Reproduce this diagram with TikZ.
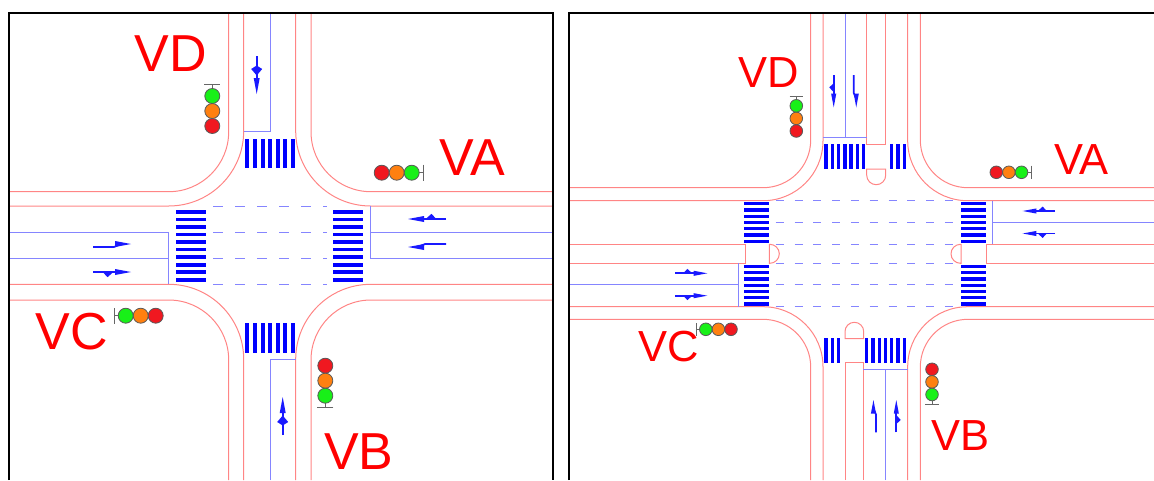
\documentclass[tikz,border=0pt]{standalone}
\usepackage{fontspec}
\setmainfont{Liberation Sans}
\colorlet{roadred}{red!48}
\colorlet{laneblue}{blue!48}
\definecolor{lamporange}{RGB}{255,128,16}
\definecolor{lampgreen}{RGB}{24,240,24}
\definecolor{lampred}{RGB}{240,24,32}
\tikzset{road/.style={roadred,line width=1pt},
         lane/.style={laneblue,line width=1pt},
         guide/.style={laneblue,line width=1pt,dash pattern=on 10pt off 12pt},
         guidesmall/.style={laneblue,line width=1pt,dash pattern=on 8pt off 10.8pt},
         zebra/.style={fill=blue},
         markfill/.style={fill=blue!90},
         markline/.style={blue!90,line width=1.7pt},
         panel/.style={black,line width=2pt},
         lamp/.style={draw=black!65,line width=.8pt},
         lampbar/.style={black!60,line width=.8pt},
         bigname/.style={red,inner sep=0,font=\fontsize{52}{52}\selectfont},
         smallname/.style={red,inner sep=0,font=\fontsize{43.5}{44}\selectfont},
         sidearrow/.pic={
           \draw[markline](0,0)--(24,0);
           \fill[markfill](22,-3)--(38,0)--(22,3)--cycle;
           \fill[markfill](10,.3)--(14.5,5.2)--(20,.3)--cycle;
         },
         forkarrow/.pic={
           \draw[markline](0,0)--(24,0);
           \fill[markfill](22,-3)--(38,0)--(22,3)--cycle;
           \fill[markfill](9.5,0)--(13,-5.5)--(19.5,0)--(13,5.5)--cycle;
         },
         bentarrow/.pic={
           \draw[markline](0,0)--(21,0) .. controls (24,0) and (25,-3) .. (28,-3);
           \fill[markfill](22,-6)--(38,-3)--(22,0)--cycle;
         },
         signal/.pic={
           \draw[lampbar](37.5,0)--(41.3,0) (41.3,-8)--(41.3,8);
           \foreach\k/\lampcol in {0/lampred,1/lamporange,2/lampgreen}
             \draw[lamp,fill=\lampcol](15*\k,0)circle(7.5);
         }
}
\begin{document}
\begin{tikzpicture}[x=1pt,y=-1pt]
  \useasboundingbox(0,0)rectangle(1154,480);
  % left crossing
  \draw[road,rounded corners=60pt](228.7,13)--(228.7,191.7)--(9.3,191.7);
  \draw[road,rounded corners=75pt](243.7,13)--(243.7,206)--(9.3,206);
  \draw[road,rounded corners=60pt](311,13)--(311,191.7)--(553.3,191.7);
  \draw[road,rounded corners=75pt](295.7,13)--(295.7,206)--(553.3,206);
  \draw[road,rounded corners=60pt](228.7,480)--(228.7,300)--(9.3,300);
  \draw[road,rounded corners=75pt](243.7,480)--(243.7,284.3)--(9.3,284.3);
  \draw[road,rounded corners=60pt](311,480)--(311,300)--(553.3,300);
  \draw[road,rounded corners=75pt](295.7,480)--(295.7,284.3)--(553.3,284.3);
  \draw[lane](270.3,13)--(270.3,131.3)--(243.7,131.3);
  \draw[lane](270.3,480)--(270.3,359.3)--(295.7,359.3);
  \draw[lane](9.3,232.3)--(168,232.3)--(168,284.3);
  \draw[lane](9.3,258.7)--(168,258.7);
  \draw[lane](553.3,258.7)--(370.7,258.7)--(370.7,206);
  \draw[lane](370.7,232.3)--(553.3,232.3);
  \foreach\y in {206,232.3,258.7,284.3}
    \draw[guide](213,\y)--(327,\y);
  \foreach\k in {0,...,6} {
    \fill[zebra](245.3+7.6*\k,139)rectangle++(4,29.3);
    \fill[zebra](245.3+7.6*\k,322.7)rectangle++(4,30);
  }
  \foreach\k in {0,...,9} {
    \fill[zebra](176,210+7.55*\k)rectangle++(30,3.7);
    \fill[zebra](333.3,210+7.55*\k)rectangle++(30,3.7);
  }
  \pic[rotate=-90] at (256.7,56) {forkarrow};
  \pic[rotate=90] at (282.7,435) {forkarrow};
  \pic at (93,247) {bentarrow};
  \pic at (93,272) {sidearrow};
  \pic[rotate=180] at (446,219) {sidearrow};
  \pic[rotate=180] at (446,244) {bentarrow};
  \pic[rotate=90] at (212.3,126) {signal};
  \pic[rotate=0] at (381.7,172.7) {signal};
  \pic[rotate=180] at (155.7,315.7) {signal};
  \pic[rotate=-90] at (325.3,365.7) {signal};
  \node[bigname](VDleft) at (170.5,53.8) {VD};
  \node[bigname](VAleft) at (472.5,158) {VA};
  \node[bigname](VCleft) at (71.8,332) {VC};
  \node[bigname](VBleft) at (358.8,451.7) {VB};
  \draw[panel](9.3,480)--(9.3,13)--(553.3,13)--(553.3,480);
  % right crossing
  \draw[road,rounded corners=47.7pt](810.7,13)--(810.7,187.7)--(568.5,187.7);
  \draw[road,rounded corners=60pt](823,13)--(823,200.7)--(568.5,200.7);
  \draw[road,rounded corners=47.7pt](920.3,13)--(920.3,187.7)--(1154,187.7);
  \draw[road,rounded corners=60pt](907.7,13)--(907.7,200.7)--(1154,200.7);
  \draw[road,rounded corners=47.7pt](810.7,480)--(810.7,319.3)--(568.5,319.3);
  \draw[road,rounded corners=60pt](823,480)--(823,306.7)--(568.5,306.7);
  \draw[road,rounded corners=47.7pt](920.3,480)--(920.3,319.3)--(1154,319.3);
  \draw[road,rounded corners=60pt](907.7,480)--(907.7,306.7)--(1154,306.7);
  % islands
  \draw[road](866.7,13)--(866.7,144)--(885.7,144)--(885.7,13);
  \draw[road](845,480)--(845,362.7)--(863.3,362.7)--(863.3,480);
  \draw[road](568.5,244.3)--(745,244.3)--(745,263.3)--(568.5,263.3);
  \draw[road](1154,244.3)--(986,244.3)--(986,263.3)--(1154,263.3);
  \draw[road](866.7,169)--(885.7,169)[rounded corners=9.5pt]--(885.7,184.7)--(866.7,184.7)[sharp corners]--cycle;
  \draw[road](845,338.7)--(863.7,338.7)[rounded corners=9.3pt]--(863.7,322.3)--(845,322.3)[sharp corners]--cycle;
  \draw[road](769.3,244.3)--(769.3,263.3)[rounded corners=9.5pt]--(779.3,263.3)--(779.3,244.3)[sharp corners]--cycle;
  \draw[road](961,244.3)--(961,263.3)[rounded corners=9.5pt]--(951,263.3)--(951,244.3)[sharp corners]--cycle;
  \draw[lane](845,13)--(845,137.7) (823,137.7)--(866.7,137.7);
  \draw[lane](885.7,480)--(885.7,369) (863.3,369)--(907.7,369);
  \draw[lane](568.5,284.3)--(738,284.3) (738,263.3)--(738,306.7);
  \draw[lane](1154,222)--(992.3,222) (992.3,200.7)--(992.3,244.3);
  \foreach\y in {200.7,222,244.3,263.3,284.3,306.7}
    \draw[guidesmall](775.7,\y)--(955,\y);
  \foreach\k in {0,...,6} {
    \fill[zebra](824.3+6.27*\k,144)rectangle++(3.4,25);
    \fill[zebra](865+6.27*\k,338.3)rectangle++(3.4,25);
    \fill[zebra](744.3,202+6.27*\k)rectangle++(25,3.3);
    \fill[zebra](744.3,264.7+6.27*\k)rectangle++(25,3.3);
    \fill[zebra](961,202+6.27*\k)rectangle++(25,3.3);
    \fill[zebra](961,264.7+6.27*\k)rectangle++(25,3.3);
  }
  \foreach\k in {0,1,2} {
    \fill[zebra](890+6.3*\k,144)rectangle++(3.4,25);
    \fill[zebra](824.3+6.27*\k,338.3)rectangle++(3.4,25);
  }
  \pic[rotate=-90,scale=.85] at (833.7,75) {sidearrow};
  \pic[rotate=-90,scale=.85] at (853.7,75) {bentarrow};
  \pic[rotate=90,scale=.85] at (876,432.3) {bentarrow};
  \pic[rotate=90,scale=.85] at (896.3,432.3) {sidearrow};
  \pic[rotate=180,scale=.85] at (1055,211) {sidearrow};
  \pic[rotate=180,yscale=-1,scale=.85] at (1055,233.5) {sidearrow};
  \pic[yscale=-1,scale=.85] at (675,273.3) {sidearrow};
  \pic[scale=.85] at (675,295.7) {sidearrow};
  \pic[rotate=90,scale=.84] at (796.3,131) {signal};
  \pic[scale=.84] at (996.3,172.3) {signal};
  \pic[rotate=180,scale=.84] at (731,329.3) {signal};
  \pic[rotate=-90,scale=.84] at (932,369.3) {signal};
  \node[smallname](VDright) at (769,73) {VD};
  \node[smallname](VAright) at (1081.4,160) {VA};
  \node[smallname](VCright) at (668.3,347) {VC};
  \node[smallname](VBright) at (960.8,435.5) {VB};
  \draw[panel](568.5,480)--(568.5,13)--(1154,13);
\end{tikzpicture}
\end{document}
